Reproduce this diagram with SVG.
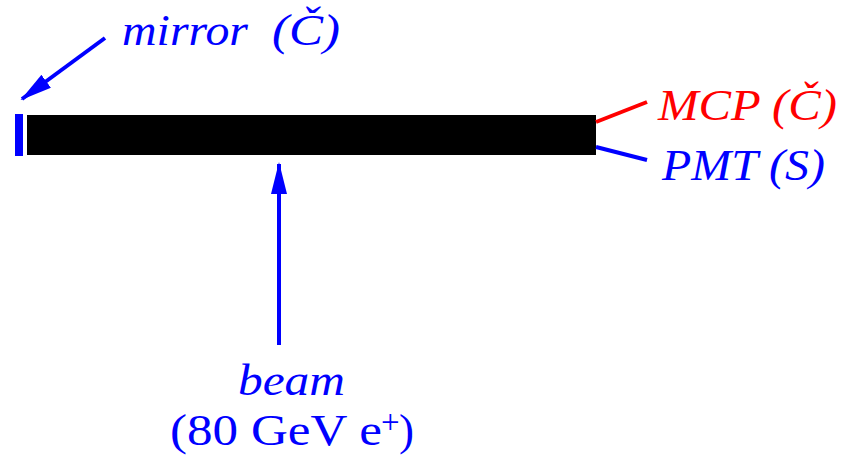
<svg xmlns="http://www.w3.org/2000/svg" width="843" height="456" viewBox="0 0 843 456">
<style>
text{font-family:"Liberation Serif","Times New Roman",serif;font-size:45px}
.i{font-style:italic}
.b{fill:#0000ff}
.r{fill:#ff0000}
.ln{stroke-width:4;fill:none}
</style>
<defs>
<marker id="ah" markerWidth="8" markerHeight="4" refX="7.5" refY="2" orient="auto" markerUnits="strokeWidth">
<path d="M0,0 L8,2 L0,4 Z" fill="#0000ff"/>
</marker>
</defs>
<rect width="843" height="456" fill="#ffffff"/>
<g id="bar"><rect x="27" y="115" width="569" height="40" fill="#000000"/></g>
<g id="mirror"><rect x="15" y="114" width="8" height="42" fill="#0000ff"/></g>
<g id="connectors">
<line class="ln" x1="105" y1="38" x2="22" y2="99" stroke="#0000ff" marker-end="url(#ah)"/>
<line class="ln" x1="279" y1="345" x2="279" y2="164" stroke="#0000ff" marker-end="url(#ah)"/>
<line class="ln" x1="596" y1="122" x2="647" y2="102" stroke="#ff0000"/>
<line class="ln" x1="596" y1="147" x2="647" y2="160" stroke="#0000ff"/>
</g>
<g id="labels">
<text class="i b" x="122" y="45" textLength="126" lengthAdjust="spacingAndGlyphs">mirror</text>
<text class="i b" x="272" y="45" textLength="68" lengthAdjust="spacingAndGlyphs">(Č)</text>
<text class="i r" x="658" y="120" textLength="179" lengthAdjust="spacingAndGlyphs">MCP (Č)</text>
<text class="i b" x="662" y="180" textLength="163" lengthAdjust="spacingAndGlyphs">PMT (S)</text>
<text class="i b" x="238" y="395" textLength="107" lengthAdjust="spacingAndGlyphs">beam</text>
<text class="b" x="170" y="445"><tspan textLength="212" lengthAdjust="spacingAndGlyphs">(80 GeV e</tspan><tspan x="381" y="433" font-size="33">+</tspan><tspan x="399" y="445">)</tspan></text>
</g>
</svg>
